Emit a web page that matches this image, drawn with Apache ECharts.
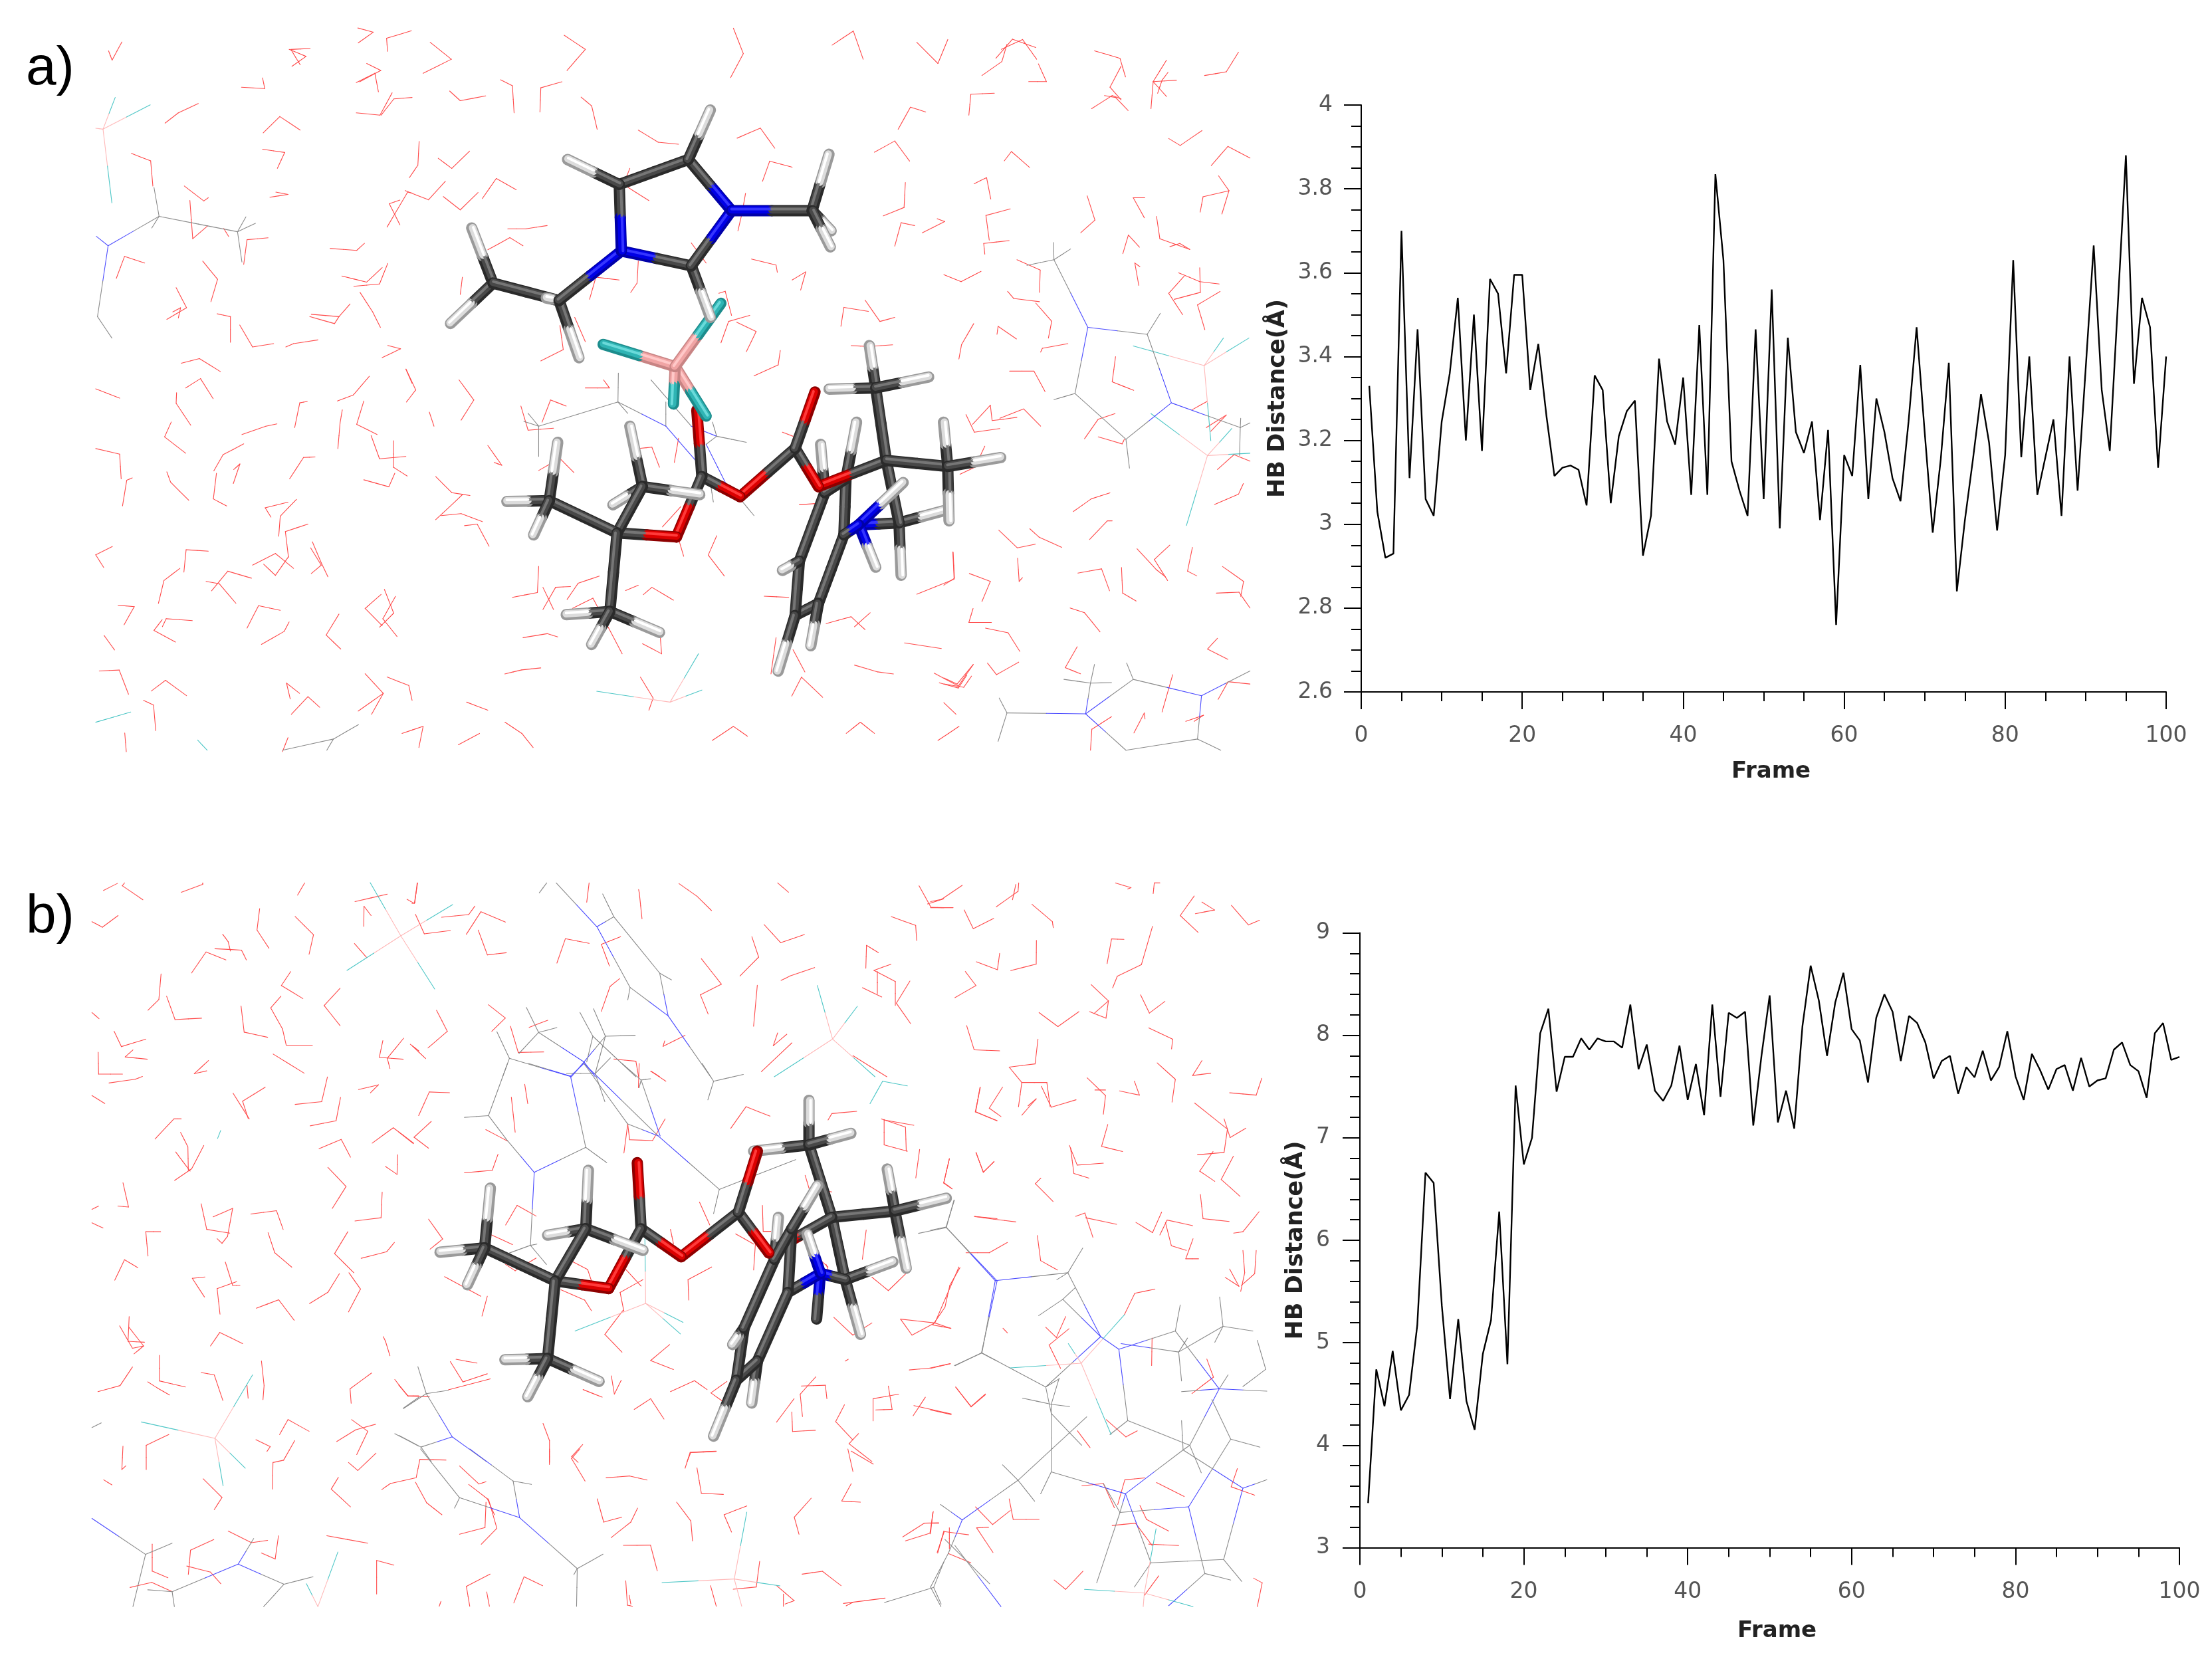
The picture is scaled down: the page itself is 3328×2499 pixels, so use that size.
<!DOCTYPE html>
<html>
<head>
<meta charset="UTF-8">
<title>HB Distance</title>
<script src="https://cdn.jsdelivr.net/npm/echarts@6/dist/echarts.min.js"></script>
<style>html,body{margin:0;background:#fff}#main{width:3328px;height:2499px}</style>
</head>
<body>
<div id="main"></div>
<script>
// hydrogen bond distance per frame
var distanceA = [3.33,3.03,2.92,2.93,3.70,3.11,3.465,3.06,3.02,3.245,
  3.36,3.54,3.20,3.50,3.175,3.585,3.55,3.36,3.595,3.595,
  3.32,3.43,3.26,3.115,3.135,3.14,3.13,3.045,3.355,3.32,
  3.05,3.21,3.27,3.295,2.925,3.02,3.395,3.245,3.19,3.35,
  3.07,3.475,3.07,3.835,3.63,3.15,3.08,3.02,3.465,3.06,
  3.56,2.99,3.445,3.22,3.17,3.245,3.01,3.225,2.76,3.165,
  3.115,3.38,3.06,3.30,3.22,3.11,3.055,3.245,3.47,3.22,
  2.98,3.155,3.385,2.84,3.01,3.155,3.31,3.195,2.985,3.165,
  3.63,3.16,3.40,3.07,3.16,3.25,3.02,3.40,3.08,3.37,
  3.665,3.32,3.175,3.525,3.88,3.335,3.54,3.47,3.135,3.40];
var distanceB = [3.435,4.74,4.38,4.92,4.34,4.49,5.17,6.66,6.56,5.36,
  4.45,5.23,4.43,4.15,4.89,5.22,6.28,4.79,7.51,6.74,
  7.0,8.02,8.26,7.45,7.79,7.79,7.97,7.86,7.97,7.94,
  7.94,7.88,8.30,7.67,7.91,7.46,7.36,7.51,7.90,7.37,
  7.72,7.22,8.30,7.40,8.22,8.17,8.23,7.12,7.8,8.39,
  7.15,7.46,7.09,8.09,8.68,8.34,7.80,8.32,8.61,8.06,
  7.95,7.54,8.17,8.40,8.23,7.75,8.19,8.12,7.93,7.58,
  7.75,7.80,7.43,7.69,7.59,7.85,7.56,7.69,8.04,7.60,
  7.37,7.82,7.66,7.47,7.67,7.71,7.46,7.78,7.50,7.56,
  7.58,7.86,7.93,7.71,7.65,7.39,8.02,8.12,7.76,7.79];

// solvent: water V shapes, x1,y1,xc,yc,x2,y2
var waterA1 = [[70,52,86,72,130,33],[980,47,893,49,935,82],[1195,3,1265,12,1197,35],[1437,9,1325,25,1329,53],[670,130,775,133,765,110],[1188,120,1272,100,1288,140],[1188,185,1295,190,1350,142],[1300,190,1358,155,1440,152],[325,207,385,185,475,165],[768,228,843,193,935,222],[765,263,865,270,832,304],[173,272,260,288,270,342],[412,342,500,374,520,367],[798,366,880,360,825,355],[1385,372,1337,380,1385,425],[1327,430,1420,355,1440,357],[437,373,450,455,518,427],[590,433,612,450],[790,453,695,457,680,510],[1070,476,1190,480,1225,465],[105,540,142,493,233,507],[495,503,562,542,532,590],[1123,535,1235,548,1305,517],[1177,557,1293,552,1330,508],[375,560,422,603,333,628],[385,625,395,603,360,612],[1205,570,1262,612,1297,645],[985,617,1110,622,1160,595],[978,622,1090,637,1110,622],[560,616,620,622,620,677],[662,640,720,687,815,680],[870,687,905,680,1015,672],[1305,710,1388,691,1330,684],[398,722,480,712,575,740],[418,775,485,755,542,798],[1103,803,1175,790,1247,750],[1412,735,1440,765],[12,777,120,797],[377,785,375,808,441,855],[910,860,933,807,967,804],[1105,905,1115,850,1125,822],[1222,803,1190,853,1282,875],[672,875,780,857,830,852],[1255,877,1293,927,1412,922],[353,848,323,880,418,915],[680,895,587,918,545,953],[12,905,120,917,127,970],[1356,888,1356,945,1418,964],[557,958,543,1013,603,1028],[633,980,663,938,635,950],[887,970,950,924,1002,923],[177,968,152,973,133,1028],[333,955,350,977,432,1016],[1222,972,1335,987,1362,958],[880,1020,777,1032,803,1052],[918,1014,845,1050,838,1093],[970,1067,868,1083,882,1138],[87,1115,12,1133,48,1160],[520,1125,420,1122,410,1170],[720,1155,823,1130,905,1162],[770,1153,823,1177,882,1137],[990,1105,1030,1150,1060,1180],[982,1118,1030,1155,985,1173],[392,1162,320,1188,295,1237],[510,1190,570,1195,645,1237],[535,1210,608,1168,715,1183],[1315,1207,1357,1258,1293,1288],[1300,1218,1228,1248,1305,1285],[1365,1222,1308,1270,1372,1308],[113,1241,186,1244,140,1283],[695,1290,747,1242,845,1252],[448,1274,330,1270,313,1287],[312,1272,275,1295,372,1320],[1110,1260,1052,1305,1118,1335],[760,1325,863,1297,885,1277],[50,1306,97,1337],[28,1382,118,1380,160,1432],[263,1425,327,1402,422,1435],[1228,1388,1310,1430,1197,1468],[1310,1430,1257,1475],[932,1430,873,1408,890,1442],[895,1475,970,1437,1023,1460],[228,1445,273,1455,283,1510],[1327,1395,1425,1413,1440,1445],[143,1515,150,1555],[880,1525,855,1555]];
var waterA2 = [[172,105,262,75,285,38],[235,68,310,27,415,45],[427,80,463,118,383,118],[680,52,795,68,820,108],[800,85,750,130,800,157],[725,148,775,152,832,180],[667,176,760,148,800,155],[1005,72,945,118,935,176],[945,118,1005,150],[945,118,1050,115],[1012,98,985,115,965,143],[1330,55,1275,97,1177,105],[228,143,122,145,113,190],[1015,240,1067,255,1165,223],[1207,298,1282,257,1382,282],[273,288,305,268,387,302],[137,337,193,324,212,370],[1240,320,1287,352,1255,402],[1287,352,1170,365,1157,398],[647,363,682,415,618,442],[907,367,855,367,905,410],[300,391,190,405,205,458],[295,459,180,465,185,488],[960,407,975,455,1110,478],[1110,478,1065,465,1020,472],[883,473,833,447,808,487],[880,555,862,507,885,515],[0,532,78,547,168,525],[330,500,435,522,432,570],[1060,528,1155,547,1243,552],[1155,517,1158,570,1040,585],[1085,535,1015,572,1078,618],[288,568,315,583,432,590],[1247,568,1145,597,1178,650],[415,593,487,632,472,668],[240,660,245,643,328,670],[135,637,80,682,68,713],[560,680,445,690,437,698],[297,739,407,739,457,783],[775,708,760,762,857,780],[130,853,210,812,218,845],[218,845,270,842,330,838],[100,832,138,870,253,862],[253,840,360,820,437,857],[635,884,697,842,773,830],[697,880,805,895,815,885],[1120,822,1188,804],[1185,860,1275,833,1205,868],[73,960,140,945,185,900],[585,1040,665,1013,750,1000],[658,1100,738,1060,760,1060],[248,1080,332,1118,413,1110],[388,1077,430,1095,532,1117],[1235,950,1310,918,1382,932],[1222,1025,1330,1003,1352,980],[1020,1112,950,1143,1010,1188],[872,1120,960,1165,1000,1180],[1122,1117,1100,1168,1142,1178],[42,1127,48,1183,0,1198],[333,1140,340,1190,355,1182],[605,1172,712,1163,748,1210],[802,1160,807,1215,868,1232],[115,1173,210,1190,172,1233],[1258,1158,1353,1190,1340,1222],[1230,1215,1332,1213,1382,1247],[132,1248,113,1278,215,1278],[570,1247,635,1257,705,1298],[188,1290,290,1300,343,1340],[602,1330,548,1375,617,1388],[1235,1312,1190,1335,1282,1357],[0,1397,60,1410,133,1368],[0,1410,90,1417,125,1393],[197,1365,238,1390,338,1363],[1033,1390,1015,1420,985,1470],[0,1450,55,1475],[858,1515,905,1472,908,1485],[1238,1443,1283,1405,1382,1410],[1092,1490,1172,1477,1130,1490],[757,1480,668,1507,662,1552]];
var waterAMid = [[120,28,145,52,205,40],[240,0,268,15,272,82],[333,80,335,20,385,5],[430,43,455,65,468,123],[565,125,612,155,660,160],[798,145,853,120,887,170],[858,252,875,202,928,217],[1122,180,1170,152,1205,202],[1178,123,1207,68,1243,80],[48,153,45,212,25,243],[93,195,125,220,167,177],[197,295,230,245,277,273],[105,290,145,323,187,280],[110,252,70,298,15,275],[545,220,530,260,590,300],[257,370,300,370,350,362],[1195,255,1192,317,1143,338],[818,282,810,330,800,375],[1235,380,1288,352,1270,345],[1170,413,1185,355,1217,362],[210,422,262,392,293,412],[690,405,725,455],[832,445,890,460,893,478],[928,497,960,477,948,522],[150,490,145,533],[565,450,562,505,547,528],[450,545,465,490,520,497],[755,530,770,525,785,585],[1043,612,1050,565,1108,575],[1100,547,1135,600,1170,590],[760,653,778,600,828,585],[797,602,843,625,820,675],[380,610,388,670,335,698],[415,590,440,650],[900,672,895,708,838,735],[1067,660,1110,662,1165,658],[17,718,40,770,18,800],[440,765,497,765,483,745],[142,745,177,795,147,845],[72,825,83,860],[288,810,305,870,365,865],[338,850,358,795,395,810],[210,908,243,957,225,950],[905,875,930,885],[87,985,125,1025,168,1032],[330,970,380,940,413,975],[570,915,597,912,615,962],[650,950,660,890],[150,1030,120,1060,87,1092],[100,1082,147,1077,197,1097],[155,1107,185,1103,213,1158],[622,1110,665,1060],[750,1132,730,1180,768,1232],[945,1055,1010,1050],[660,1140,672,1183],[330,1208,327,1273,268,1285],[340,1260,365,1315],[405,1258,370,1260,340,1315],[397,1290,423,1250,473,1232],[535,1268,565,1255],[577,1278,597,1260,648,1292],[862,1282,920,1285],[1222,1277,1310,1240,1307,1172],[1008,1350,1067,1333,1100,1365],[1075,1358,1112,1323],[1193,1398,1280,1412],[293,1385,350,1375,375,1383],[410,1312,458,1287,527,1425],[575,1400,620,1425,617,1385],[250,1475,290,1465,335,1460],[1075,1453,1130,1470,1167,1475],[1263,1473,1320,1505,1355,1452],[1275,1497,1320,1510,1340,1478],[930,1415,958,1470],[878,1475,890,1385],[927,1530,950,1483,1000,1533],[570,1483,600,1535,590,1565],[160,1545,210,1565]];
var waterAEdge = [[205,35,217,40,207,47],[260,45,270,50,255,58],[520,20,527,38,518,55],[710,35,725,28,735,42],[305,30,320,42,300,52],[400,25,415,35,402,50],[590,32,605,22,612,42],[650,30,665,45,672,28],[285,520,300,515,297,530],[358,512,370,520,378,530],[505,525,520,515,530,522],[600,520,610,512,620,520],[665,525,680,515],[325,528,340,520]];
var waterB1 = [[77,28,140,13],[172,12,162,18,255,48],[428,32,525,15,525,12],[953,38,985,12],[25,95,72,107,143,82],[782,67,770,113,824,152],[942,84,1025,123,1005,165],[1212,52,1358,36],[1252,105,1253,62,1285,82],[1447,47,1480,56,1495,12],[615,122,640,138,650,158],[475,205,540,160,630,177],[580,153,700,156,722,177],[1210,142,1265,172],[337,207,327,262,278,285],[922,202,880,232,977,260],[1145,238,1073,275,1145,318],[25,290,57,303],[362,255,400,305,520,302],[698,276,712,332,818,343],[878,255,832,280,885,325],[885,325,902,360,1020,360],[125,330,158,363,268,347],[1338,350,1322,386,1430,390],[1432,345,1358,388,1370,410],[1462,358,1500,372],[210,370,175,385,275,390],[53,375,55,422,163,422],[102,441,220,433,253,427],[551,393,487,421,543,415],[843,379,983,420],[1228,455,1318,445,1282,462],[1088,428,1062,481,942,487],[25,468,83,485],[662,463,735,518],[807,450,705,480,730,517],[1147,472,1127,522,1010,533],[310,561,395,518,428,518],[425,547,458,578,460,628],[530,575,475,625,398,650],[403,589,468,630],[1290,570,1385,537,1477,570],[1050,582,1150,562,1192,600],[1405,595,1402,637,1350,620],[1090,622,1172,663,1110,710],[165,655,190,707,142,705],[25,712,55,705],[518,700,543,755,647,763],[572,728,660,710,637,770],[637,770,612,785,590,775],[742,722,858,715,888,755],[1335,675,1330,730,1212,737],[25,741,75,752],[335,760,268,760,278,812],[1180,760,1120,807,1207,848],[820,762,850,805,927,836],[1240,817,1355,803,1390,783],[128,864,172,820,232,837],[627,825,660,875,693,875],[535,857,478,860,533,900],[678,867,590,882,603,937],[1185,848,1237,883,1183,932],[767,924,868,906,938,950],[1007,914,1090,890,1142,850],[193,942,188,995,262,997],[150,962,208,1010,258,1005],[192,965,258,1005,215,1022],[560,1005,602,976,705,1000],[1340,985,1350,995,1370,1026],[208,1050,152,1090,52,1103],[330,1025,330,1080,447,1093],[277,1082,320,1095,375,1110],[518,1062,577,1067,616,1122],[790,1037,802,1090,797,1120],[725,1090,730,1117],[1287,1063,1190,1097,1195,1128],[1392,1077,1450,1112,1500,1112],[872,1195,910,1163,1005,1188],[765,1206,830,1221,815,1231],[1197,1163,1270,1188,1220,1238],[1130,1210,1215,1185,1305,1173],[270,1270,270,1218,372,1195],[165,1220,160,1270,178,1262],[1183,1255,1225,1272,1307,1235],[940,1208,890,1250,842,1255],[842,1255,840,1312],[1333,1313,1372,1300,1485,1288],[78,1292,115,1303],[527,1290,612,1330,577,1356],[1137,1287,1105,1312,1192,1350],[640,1402,745,1427,818,1422],[1085,1412,1270,1428],[297,1430,297,1488,368,1502],[867,1412,852,1462,790,1449],[575,1420,470,1443,460,1495],[453,1477,560,1490,607,1515],[1388,1475,1310,1465,1310,1537],[197,1523,295,1512,388,1532]];
var waterB2 = [[0,52,50,47,143,17],[0,65,102,65],[152,70,193,110,285,88],[297,63,395,30,398,12],[370,48,385,15],[458,58,550,95,554,108],[207,181,302,198,312,163],[362,200,477,186,478,135],[157,202,205,232,110,258],[873,133,817,132,797,185],[1002,105,952,187,843,212],[843,212,822,237],[835,12,905,22,890,25],[1005,35,1010,12,1035,12],[1190,40,1127,82,1208,118],[1225,53,1282,70,1195,78],[1358,60,1435,102,1485,92],[725,230,803,265,738,292],[803,265,792,302,718,288],[948,252,988,291,1058,266],[490,290,575,320,670,288],[985,323,1093,347,1088,368],[163,318,197,370,312,372],[485,347,472,400,355,407],[355,407,412,440,397,492],[412,440,525,440,540,492],[500,448,545,493,657,477],[412,510,477,475,440,490],[1023,398,1105,433,1090,482],[1225,393,1183,425,1265,420],[707,430,790,468,780,508],[742,456,790,456],[920,437,943,467,853,458],[1350,462,1470,467,1495,431],[225,450,202,503,300,522],[325,450,265,495,318,513],[1192,484,1340,540,1325,590],[1325,518,1352,558,1423,538],[800,530,772,577,867,588],[1205,595,1325,590],[1275,588,1215,630,1283,652],[1367,598,1312,648,1397,684],[627,575,662,617,780,613],[632,580,647,635,715,645],[205,590,238,632,287,610],[85,603,60,655,98,668],[498,645,473,657,553,695],[197,727,285,733,385,739],[655,727,697,720,733,772],[700,730,840,744],[927,740,1002,762,1043,718],[1035,767,1068,735,1183,747],[1060,740,1087,790,1155,800],[1185,775,1152,818,1210,818],[1218,680,1230,732,1348,738],[1368,763,1410,760,1483,717],[160,805,265,805,347,783],[482,768,497,822,573,842],[1350,840,1392,877,1330,858],[1410,800,1418,848,1400,888],[1470,800,1463,850,1403,875],[133,837,87,875,65,922],[65,922,10,960,92,967],[0,1053,90,1043],[1013,883,922,892,875,938],[520,965,568,987,610,942],[625,968,535,1003,587,1053],[327,967,347,977],[1000,988,998,1047],[1247,1033,1277,1072,1180,1107],[113,1093,183,1135,248,1108],[0,1142,93,1152],[663,1187,720,1223],[793,1163,882,1200,933,1187],[203,1350,280,1388,360,1358],[355,1333,373,1377,490,1377],[1020,1298,1145,1328],[945,1347,975,1377,1075,1402],[967,1288,877,1292,845,1345],[683,1305,780,1300,830,1352],[1385,1268,1357,1307,1463,1325],[820,1390,925,1385,1000,1433],[985,1430,1120,1433],[262,1394,208,1395,282,1448],[0,1385,37,1385],[10,1362,0,1408],[30,1448,62,1403,172,1410],[85,1395,85,1440],[80,1450,182,1470],[558,1507,610,1527,688,1488],[1458,1503,1497,1513,1475,1564],[965,1540,1030,1498]];
var waterBTop = [[15,25,8,115,0,118],[87,180,167,168,185,130],[10,167,36,255,113,240],[275,202,203,155,160,257],[195,238,222,350,278,340],[522,25,515,112],[668,55,670,70,678,187],[787,28,840,85,883,150],[1078,25,1110,67],[1495,38,1530,135,1568,137],[1520,120,1568,97],[1038,213,1087,295,1157,258],[1002,268,1022,360,967,445],[427,387,452,277,522,298],[615,268,558,302,582,400],[1413,177,1485,217,1488,285],[853,367,912,482,850,530],[850,530,873,617],[1375,340,1340,307,1338,410],[1088,465,1115,445,1187,407],[1412,392,1362,420,1425,470],[1425,470,1425,578],[1372,425,1372,525],[1328,498,1385,540],[612,457,584,492,558,605],[1018,487,1007,672],[1468,468,1428,568,1470,660],[225,575,275,635,235,695],[72,600,104,695,47,770],[345,677,400,645],[290,672,313,790,388,788],[805,713,740,763,745,738],[1078,702,1065,760,1105,708],[1120,747,1030,877],[0,760,40,818],[595,820,660,830,668,900],[1300,805,1400,900],[705,875,730,900]];
var waterBMid = [[52,205,80,112,133,115],[330,82,338,158],[295,133,305,270],[40,290,85,228],[0,270,38,315],[40,290,78,333],[630,0,628,95],[660,30,700,70],[228,260,285,305],[260,357,245,420,172,430],[590,352,600,238,605,300],[605,300,665,303,698,218],[870,255,910,170,973,207],[1125,222,1135,197,1200,188],[1272,220,1272,320,1333,345],[1265,218,1328,250,1330,345],[1272,222,1350,243],[1355,450,1365,338],[1443,375,1428,470,1450,493],[1513,350,1532,428,1560,385],[1523,95,1512,190,1568,225],[280,635,310,558,360,600],[78,612,115,690,82,730],[240,672,298,712],[712,652,720,710],[788,545,815,635],[883,670,930,710],[935,700,930,812],[953,558,955,660,975,660],[1510,602,1568,610],[1065,440,1075,490,1135,505],[280,790,305,815,360,765],[120,838,215,915],[232,915,218,993],[450,775,495,810,505,855],[425,890,487,930,505,972],[595,810,635,875],[580,900,640,850],[590,975,580,900],[588,970,540,1065,585,1135],[820,800,758,850,760,930],[1080,740,1125,800],[1120,790,1130,830],[1240,840,1283,893,1330,825],[1225,655,1215,770],[1468,800,1405,1020,1315,1005],[1315,1005,1345,1068,1405,1020],[1405,1020,1447,1042],[1140,998,1190,1068,1240,1020],[710,1105,660,1168,720,1203],[1170,1170,1178,1163],[1338,1205,1390,1198,1445,1180],[1460,1273,1500,1350,1537,1303],[135,1172,168,1252,232,1220],[150,1163,205,1178],[130,1283,240,1240],[557,1228,565,1300,583,1245],[483,1282,533,1312],[712,1290,775,1247,808,1282],[818,1295,860,1250],[818,1295,860,1340],[1093,1232,1052,1300,1058,1388],[1055,1268,1118,1265,1122,1318],[1036,1318,990,1410],[1030,1370,1032,1447,1092,1442],[1283,1268,1293,1360,1250,1362],[1310,1300,1243,1318,1243,1405],[1380,1312,1348,1385],[1350,1345,1448,1378],[1168,1342,1145,1408,1190,1480],[1205,1455,1180,1495,1240,1565],[617,1360,660,1318,695,1398],[0,1265,25,1308,80,1310],[378,1415,395,1483,395,1568],[482,1498,453,1545,470,1568],[755,1568,765,1530,832,1525]];
var waterBBot = [[100,50,23,47,12,130],[10,150,43,243,88,297],[405,0,405,70],[495,0,470,43,510,145],[140,77,197,158,218,148],[167,160,222,225,243,297],[225,225,250,358,204,430],[218,240,215,355,140,385],[572,130,642,122,693,140],[897,10,820,15,805,87],[840,85,853,200,918,205],[1285,0,1300,102],[1295,10,1360,68],[1295,157,1267,235,1322,240],[546,225,565,330,618,308],[665,267,645,330,587,400],[780,240,822,325,827,415],[987,257,920,297,942,375],[1177,222,1127,308,1141,385],[1537,282,1527,380,1455,415],[1447,397,1510,335,1553,333],[1568,370,1550,470],[623,435,703,434,723,550],[230,565,160,620,170,710],[385,617,330,577,300,695],[220,645,228,710],[1025,507,1015,623,947,633],[1150,565,1210,552,1265,617],[630,595,635,705,650,710],[640,660,645,700],[1075,617,1127,685,1100,700],[1095,655,1095,710],[880,617,897,710],[1272,697,1395,673],[1280,708,1300,692],[85,688,80,710]];

// thin wire ions, x1,y1,x2,y2 and the two atom kinds at the ends
var wireA1 = [[45,220,100,152,'bf'],[45,220,258,168,'bf'],[45,220,85,378,'bf'],[45,220,12,218,'b'],[298,407,68,470,'cn'],[298,407,275,345,'c'],[298,407,265,432,'c'],[298,407,652,440,'c'],[652,440,690,408,'c'],[652,440,733,422,'c'],[652,440,672,505,'c'],[68,470,15,450,'n'],[68,470,20,622,'nc'],[20,622,85,668,'c'],[1198,1497,1085,1528,'c'],[1085,1528,855,1552,'c'],[1085,1528,1055,1552,'c'],[170,1470,12,1492,'f'],[472,1530,515,1552,'f']];
var wireA2 = [[1175,727,855,685,'bf'],[1175,727,1262,668,'bf'],[1175,727,1377,668,'bf'],[1175,727,1205,888,'bf'],[1190,920,935,830,'bf'],[1190,920,1300,862,'bf'],[1190,920,1095,1070,'bf'],[1190,920,1382,915,'bf'],[497,500,650,645,'cn'],[497,500,495,463,'c'],[497,500,572,477,'c'],[497,500,375,512,'c'],[650,645,918,660,'nc'],[650,645,592,787,'nc'],[918,660,977,615,'c'],[918,660,1027,807,'cn'],[1027,807,822,885,'nc'],[1027,807,1338,860,'nc'],[592,787,497,800,'c'],[592,787,822,885,'c'],[822,885,838,947,'c'],[1338,860,1340,840,'c'],[1338,860,1382,850,'c'],[1338,860,1335,920,'c'],[285,1472,250,1440,'c'],[285,1472,245,1533,'c'],[285,1472,640,1474,'cn'],[640,1474,662,1408,'nc'],[662,1408,680,1368,'c'],[662,1408,542,1400,'c'],[662,1408,757,1407,'c'],[640,1474,855,1400,'nc'],[855,1400,825,1365,'c'],[855,1400,1163,1435,'cn'],[1163,1435,1382,1382,'nc'],[1163,1435,1145,1528,'nc'],[1145,1528,1250,1552,'c'],[1145,1528,822,1552,'c'],[640,1474,822,1552,'nc']];
var wireAMid = [[640,1545,707,1425,'bf'],[640,1545,467,1518,'bf'],[640,1545,715,1515,'bf'],[517,800,518,728,'c'],[517,800,540,828,'c'],[517,800,330,860,'c'],[330,860,295,848,'c'],[330,860,305,828,'c'],[330,860,330,935,'c'],[517,800,630,860,'cn'],[630,860,630,800,'c'],[630,860,725,975,'n'],[595,745,690,860,'c'],[690,860,750,885,'n'],[750,885,820,900,'c'],[750,885,740,850,'c'],[750,885,725,905,'c'],[725,905,780,1020,'n'],[735,1000,742,1048,'c'],[805,1040,838,1082,'c']];
var wireB1 = [[580,1203,248,1168,'bf'],[580,1203,750,1067,'bf'],[580,1203,717,1267,'bf'],[580,1203,617,1305,'bf'],[592,560,606,543,'f'],[25,1180,67,1170,'c'],[1432,1138,1500,1115,'c'],[1392,1193,1500,1220,'c'],[25,1375,267,1452,'nc'],[267,1452,387,1428,'c'],[267,1452,210,1564,'c'],[387,1532,277,1528,'c'],[387,1532,685,1473,'cn'],[387,1532,397,1564,'c'],[685,1473,755,1418,'nc'],[685,1473,892,1516,'nc'],[892,1516,1023,1500,'c'],[892,1516,800,1564,'c'],[1045,1564,993,1515,'bf'],[1045,1564,1135,1447,'bf']];
var wireBIon = [[603,1408,557,1328,'bf'],[603,1408,522,1460,'bf'],[603,1408,681,1361,'bf'],[603,1408,654,1488,'bf']];
var wireBTop = [[425,25,545,223,'cn'],[545,223,595,178,'nc'],[595,178,562,75,'c'],[595,178,730,432,'c'],[730,432,765,463,'c'],[730,432,755,625,'cn'],[545,223,643,497,'nc'],[643,497,636,553,'c'],[643,497,755,625,'cn'],[755,625,880,900,'nc'],[375,70,397,25,'c'],[373,700,427,678,'c'],[373,700,337,587,'c'],[373,700,315,795,'c'],[373,700,507,833,'cn'],[287,817,250,697,'c'],[287,817,267,900,'c'],[287,817,470,900,'cn'],[507,833,470,900,'n'],[507,833,570,717,'nc'],[570,717,658,713,'c'],[570,717,535,593,'c'],[570,717,540,885,'c'],[533,717,495,610,'c'],[533,717,660,900,'c'],[533,717,515,833,'c'],[540,885,455,885,'c'],[540,885,585,815,'c'],[507,833,540,900,'n'],[1240,730,1195,488,'bf'],[1240,730,1313,582,'bf'],[1240,730,1068,900,'bf'],[1240,730,1365,900,'bf']];
var wireBMid = [[647,943,745,1018,'bf'],[647,943,738,1063,'bf'],[647,943,462,1052,'bf'],[647,943,645,690,'bf'],[840,495,1040,378,'c'],[355,428,283,300,'nc'],[355,428,345,715,'nc'],[355,428,490,330,'nc'],[490,330,545,390,'c'],[490,330,450,50,'cn'],[283,300,235,205,'c'],[235,205,172,212,'c'],[235,205,285,0,'c'],[345,715,290,745,'c'],[345,715,362,710,'c'],[345,715,387,790,'c'],[840,495,680,285,'cn'],[840,495,825,590,'c'],[1435,645,1362,668,'c'],[1435,645,1455,537,'c'],[1435,645,1568,855,'cn'],[1527,1138,1458,1188,'c'],[1527,1138,1568,1170,'c'],[1568,855,1527,1138,'nc'],[72,1298,50,1192,'c'],[72,1298,12,1357,'c'],[72,1298,130,1285,'c'],[72,1298,140,1468,'cn'],[140,1468,58,1508,'nc'],[140,1468,230,1565,'nc'],[58,1508,0,1462,'c'],[58,1508,85,1565,'c'],[450,50,340,0,'nc'],[450,50,485,0,'n'],[485,0,680,285,'nc'],[515,40,540,150,'c'],[585,0,635,65,'c'],[635,65,660,60,'c'],[635,65,630,95,'c'],[635,65,685,285,'cn'],[485,0,600,238,'c'],[600,238,680,285,'cn'],[825,70,795,0,'c'],[825,70,903,43,'c'],[825,70,810,143,'c'],[1268,70,1235,158,'f'],[1268,70,1333,88,'f']];
var wireB2 = [[70,750,108,692,'c'],[70,750,0,757,'c'],[70,750,292,865,'cn'],[292,865,232,1020,'nc'],[292,865,620,848,'nc'],[620,848,687,795,'c'],[620,848,570,863,'c'],[620,848,768,985,'cn'],[597,905,488,940,'c'],[597,905,653,880,'c'],[597,905,768,985,'cn'],[768,985,850,1012,'n'],[768,985,520,1093,'nc'],[232,1020,108,1047,'c'],[232,1020,520,1093,'c'],[520,1093,545,1150,'c'],[520,1093,582,1075,'c'],[850,1012,890,1165,'nc'],[850,1012,1105,973,'nc'],[1105,973,1127,917,'c'],[1105,973,1303,1097,'cn'],[1120,1018,1160,988,'c'],[1120,1018,1133,1080,'c'],[1120,1018,1320,963,'c'],[860,1000,1120,1018,'nc'],[1320,963,1305,900,'c'],[1320,963,1283,997,'c'],[1320,963,1455,973,'c'],[890,1165,810,1195,'c'],[890,1165,1170,1218,'c'],[1303,1097,1343,1067,'c'],[1303,1097,1133,1103,'nc'],[1303,1097,1518,1102,'nc'],[1303,1097,1170,1218,'nc'],[1270,1120,1355,1205,'c'],[1355,1205,1487,1222,'c'],[1355,1205,1165,1350,'cn'],[1170,1218,1140,1228,'c'],[1170,1218,1222,1277,'c'],[1140,1228,1133,1165,'c'],[1140,1228,880,1322,'cn'],[1140,1228,1410,1310,'cn'],[880,1322,855,1362,'nc'],[880,1322,995,1470,'nc'],[880,1322,545,1275,'nc'],[855,1362,1165,1350,'cn'],[855,1362,750,1513,'c'],[855,1362,780,1300,'c'],[1165,1350,1238,1493,'nc'],[995,1470,1323,1463,'c'],[995,1470,920,1522,'c'],[1238,1493,1355,1507,'c'],[1238,1493,1075,1562,'cn'],[1323,1463,1405,1510,'c'],[1410,1310,1323,1463,'nc'],[1410,1310,1518,1292,'nc'],[1475,993,1513,1055,'c'],[1513,1055,1410,1092,'c'],[545,1275,497,1322,'c'],[545,1275,545,1130,'c'],[545,1130,415,1117,'c'],[545,1130,628,1135,'c'],[545,1130,580,1075,'c'],[545,1150,682,1218,'c'],[395,1293,705,1157,'c'],[395,1293,325,1260,'c'],[395,1293,470,1338,'c'],[395,1293,143,1378,'cn'],[143,1378,45,1345,'nc'],[143,1378,80,1450,'nc'],[80,1450,0,1522,'c'],[0,1522,47,1564,'c'],[65,1420,267,1515,'c'],[110,1433,318,1564,'cn'],[680,1042,360,1052,'bf'],[680,1042,875,938,'bf'],[680,1042,622,1000,'bf'],[680,1042,815,1195,'bf'],[965,1535,695,1527,'bf'],[965,1535,1018,1397,'bf'],[965,1535,1185,1564,'bf'],[965,1535,960,1564,'b']];
var wireBBot = [[25,0,140,220,'c'],[140,220,125,267,'c'],[140,220,317,310,'cn'],[170,0,298,145,'nc'],[298,145,352,160,'c'],[298,145,317,310,'cn'],[317,310,487,540,'nc'],[487,540,563,475,'c'],[487,540,477,567,'c'],[487,540,485,710,'c'],[1538,625,1393,693,'c'],[1538,625,1568,510,'c'],[1538,625,1560,700,'c'],[950,587,987,285,'bf'],[950,587,737,603,'bf'],[950,587,1085,618,'bf'],[950,587,972,710,'b']];

// solute sticks, x1,y1,x2,y2 and the two atom kinds, drawn back to front
var sticksA = [
  [1050,1130,1055,990,'c'],[1050,1130,990,1300,'c'],[990,1300,935,1330,'c'],[990,1300,972,1405,'ch'],[935,1330,945,1195,'c'],[945,1195,1005,1025,'c'],[945,1195,905,1218,'ch'],[935,1330,895,1468,'ch'],[1055,990,1080,850,'ch'],[1005,1025,995,905,'ch'],[1005,1025,1055,990,'c'],
  [1180,1100,1285,1070,'ch'],[1085,1105,1180,1100,'nc'],[1180,1100,1185,1230,'ch'],[1150,945,1180,1100,'c'],
  [1085,1105,1190,1000,'nh'],[1085,1105,1125,1210,'nh'],[1050,1130,1085,1105,'cn'],
  [990,1010,1150,945,'oc'],[1150,945,1125,765,'c'],[1125,765,1110,660,'ch'],[1125,765,1015,768,'ch'],[1125,765,1250,738,'ch'],[1150,945,1295,960,'c'],[1295,960,1285,850,'ch'],[1295,960,1298,1095,'ch'],[1295,960,1420,938,'ch'],
  [935,915,990,1010,'co'],[805,1035,935,915,'oc'],[935,915,982,775,'co'],[715,985,805,1035,'co'],[715,985,703,820,'co'],[715,985,655,1135,'co'],[515,1125,655,1135,'co'],
  [575,1010,545,860,'ch'],[575,1010,505,1055,'ch'],[575,1010,710,1030,'ch'],[515,1125,575,1010,'c'],[515,1125,355,1045,'c'],[355,1045,255,1047,'ch'],[355,1045,375,900,'ch'],[355,1045,318,1130,'ch'],[515,1125,498,1320,'c'],[498,1320,395,1328,'ch'],[498,1320,615,1372,'ch'],[498,1320,455,1402,'ch'],
  [652,712,725,835,'bf'],[652,712,648,805,'bf'],[652,712,482,657,'bf'],[652,712,760,555,'bf'],
  [378,548,425,690,'ch'],[222,505,172,368,'ch'],[222,505,122,605,'ch'],[222,505,378,548,'c'],[378,548,348,542,'ch'],[378,548,525,425,'cn'],
  [690,462,735,590,'ch'],[525,425,690,462,'nc'],[690,462,785,325,'cn'],[785,325,683,198,'nc'],[683,198,520,260,'c'],[520,260,525,425,'cn'],[683,198,735,75,'ch'],[520,260,398,198,'ch'],
  [975,325,1020,375,'ch'],[785,325,975,325,'nc'],[975,325,1015,185,'ch'],[975,325,1018,415,'ch']
];
var sticksB = [
  [1075,320,930,345,'ch'],[1135,605,1170,850,'c'],[1135,605,1075,320,'c'],[1075,320,1075,145,'ch'],[1075,320,1185,275,'ch'],[1170,850,1210,1065,'ch'],[1170,850,1295,780,'ch'],
  [1135,605,1300,580,'c'],[1300,580,1280,415,'ch'],[1300,580,1330,805,'ch'],[1300,580,1435,530,'ch'],
  [1105,825,1095,1005,'nc'],[1105,825,1170,850,'nc'],[970,745,1135,605,'oc'],
  [1020,900,1105,825,'cn'],[1105,825,1070,670,'nh'],[1030,650,1020,900,'c'],[1020,900,940,1170,'c'],[940,1170,925,1335,'ch'],[940,1170,885,1245,'c'],[885,1245,905,1040,'c'],[885,1245,825,1465,'ch'],[905,1040,875,1105,'ch'],[905,1040,985,770,'c'],[985,770,995,605,'ch'],[985,770,1030,650,'c'],[1030,650,1098,480,'ch'],
  [890,585,970,745,'co'],[740,760,890,585,'oc'],[890,585,940,345,'co'],[635,650,740,760,'co'],[635,650,625,390,'co'],[635,650,550,885,'co'],[410,855,550,885,'co'],
  [490,650,497,420,'ch'],[490,650,390,675,'ch'],[490,650,640,735,'ch'],[410,855,490,650,'c'],[410,855,225,725,'c'],[225,725,240,490,'ch'],[225,725,108,742,'ch'],[225,725,180,870,'ch'],[410,855,390,1160,'c'],[390,1160,278,1165,'ch'],[390,1160,525,1250,'ch'],[390,1160,338,1310,'ch']
];

var kinds = {c:0,h:1,n:2,o:3,b:4,f:5,w:6};
var wireColors = ['#8a8a8a','#ddd','#4a4aff','#ff4040','#ffb8b8','#4cc6c6','#ff4a4a'];
// base, body and highlight of each stick kind
var stickColors = [
  ['#2a2a2a','#484848','#767676'],
  ['#9a9a9a','#dcdcdc','#ffffff'],
  ['#0000a8','#0000e6','#3535ff'],
  ['#8e0000','#dc0000','#ff3a3a'],
  ['#c88484','#f0a4a4','#ffc8c8'],
  ['#1c8c8c','#2fb4b4','#6adada']
];

// read segments from a crop of the picture into picture pixels
function crop(x0, y0, sx, sy, rows, kind) {
  var out = [];
  rows.forEach(function (r) {
    var k = typeof r[4] === 'string' ? r[4] : kind;
    var n = typeof r[4] === 'string' ? 4 : r.length;
    for (var i = 0; i + 3 < n; i += 2) {
      out.push([
        x0 + r[i] / sx, y0 + r[i + 1] / sy,
        x0 + r[i + 2] / sx, y0 + r[i + 3] / sy,
        kinds[k[0]], kinds[k[k.length - 1]]
      ]);
    }
  });
  return out;
}

var thinLines = [].concat(
  crop(140, 40, 3, 1.4255, waterA1, 'w'),
  crop(1420, 40, 3, 1.4255, waterA2, 'w'),
  crop(600, 120, 1.568, 1.65, waterAMid, 'w'),
  crop(0, 0, 1 / 2.122, 1 / 2.122, waterAEdge, 'w'),
  crop(130, 1320, 3, 1.4255, waterB1, 'w'),
  crop(1400, 1320, 3, 1.4255, waterB2, 'w'),
  crop(620, 1320, 1.96, 3, waterBTop, 'w'),
  crop(600, 1600, 1.742, 2.613, waterBMid, 'w'),
  crop(620, 2180, 1.96, 3, waterBBot, 'w'),
  crop(140, 40, 3, 1.4255, wireA1),
  crop(1420, 40, 3, 1.4255, wireA2),
  crop(600, 120, 1.568, 1.65, wireAMid),
  crop(130, 1320, 3, 1.4255, wireB1),
  crop(0, 0, 1, 1, wireBIon),
  crop(620, 1320, 1.96, 3, wireBTop),
  crop(600, 1600, 1.742, 2.613, wireBMid),
  crop(1400, 1320, 3, 1.4255, wireB2),
  crop(620, 2180, 1.96, 3, wireBBot)
);
var thickLines = [].concat(
  crop(600, 120, 1.568, 1.65, sticksA),
  crop(600, 1600, 1.742, 2.613, sticksB)
);

function segment(p, q, color, width, dx, dy) {
  return {
    type: 'line',
    shape: {x1: p[0] + dx, y1: p[1] + dy, x2: q[0] + dx, y2: q[1] + dy},
    style: {stroke: color, lineWidth: width, lineCap: 'round', fill: null}
  };
}

function renderWire(params, api) {
  var p = api.coord([api.value(0), api.value(1)]);
  var q = api.coord([api.value(2), api.value(3)]);
  var m = [(p[0] + q[0]) / 2, (p[1] + q[1]) / 2];
  return {type: 'group', children: [
    segment(p, m, wireColors[api.value(4)], 1.1, 0, 0),
    segment(m, q, wireColors[api.value(5)], 1.1, 0, 0)
  ]};
}

function renderStick(params, api) {
  var p = api.coord([api.value(0), api.value(1)]);
  var q = api.coord([api.value(2), api.value(3)]);
  var m = [(p[0] + q[0]) / 2, (p[1] + q[1]) / 2];
  var a = stickColors[api.value(4)], b = stickColors[api.value(5)];
  var len = Math.hypot(q[0] - p[0], q[1] - p[1]) || 1;
  var nx = -(q[1] - p[1]) / len * 2.5, ny = (q[0] - p[0]) / len * 2.5;
  if (ny > 0) { nx = -nx; ny = -ny; }
  return {type: 'group', children: [
    segment(p, m, a[0], 17, 0, 0), segment(m, q, b[0], 17, 0, 0),
    segment(p, m, a[1], 11, nx / 2, ny / 2), segment(m, q, b[1], 11, nx / 2, ny / 2),
    segment(p, m, a[2], 4, nx, ny), segment(m, q, b[2], 4, nx, ny)
  ]};
}

function plotX(gridIndex, gap) {
  return {
    type: 'value', gridIndex: gridIndex, min: 0, max: 100, interval: 20,
    name: 'Frame', nameLocation: 'middle', nameGap: gap,
    nameTextStyle: {fontFamily: 'DejaVu Sans', fontWeight: 'bold', fontSize: 34, color: '#222', padding: [0, 0, 0, 22]},
    axisLine: {onZero: false, lineStyle: {color: '#000', width: 2}},
    axisTick: {show: true, length: 26, lineStyle: {color: '#000', width: 2}},
    minorTick: {show: true, splitNumber: 4, length: 14, lineStyle: {color: '#000', width: 2}},
    axisLabel: {margin: 50, fontFamily: 'DejaVu Sans', fontSize: 33, color: '#555'},
    splitLine: {show: false}, minorSplitLine: {show: false}
  };
}

function plotY(gridIndex, min, max, interval, minor, gap, margin) {
  return {
    type: 'value', gridIndex: gridIndex, min: min, max: max, interval: interval,
    name: 'HB Distance(Å)', nameLocation: 'middle', nameGap: gap,
    nameTextStyle: {fontFamily: 'DejaVu Sans', fontWeight: 'bold', fontSize: 35, color: '#222'},
    axisLine: {show: true, onZero: false, lineStyle: {color: '#000', width: 2}},
    axisTick: {show: true, length: 26, lineStyle: {color: '#000', width: 2}},
    minorTick: {show: true, splitNumber: minor, length: 15, lineStyle: {color: '#000', width: 2}},
    axisLabel: {margin: margin, fontFamily: 'DejaVu Sans', fontSize: 33, color: '#555'},
    splitLine: {show: false}, minorSplitLine: {show: false}
  };
}

function framed(values) {
  return values.map(function (v, i) { return [i + 1, v]; });
}

var hiddenAxis = {type: 'value', gridIndex: 2, show: false, splitLine: {show: false}};

var myChart = echarts.init(document.getElementById('main'), null, {renderer: 'canvas'});
var option = {
  animation: false,
  backgroundColor: '#fff',
  title: [
    {text: 'a)', left: 34, top: 58, textStyle: {fontFamily: 'Liberation Sans', fontWeight: 'normal', fontSize: 82, color: '#000'}},
    {text: 'b)', left: 34, top: 1334, textStyle: {fontFamily: 'Liberation Sans', fontWeight: 'normal', fontSize: 82, color: '#000'}}
  ],
  grid: [
    {left: 2048, top: 158, width: 1211, height: 883},
    {left: 2046, top: 1403.5, width: 1233, height: 925},
    {left: 0, top: 0, width: 3328, height: 2499}
  ],
  xAxis: [plotX(0, 103), plotX(1, 109), Object.assign({min: 0, max: 3328}, hiddenAxis)],
  yAxis: [
    plotY(0, 2.6, 4, 0.2, 4, 108, 43),
    plotY(1, 3, 9, 1, 5, 79, 45),
    Object.assign({min: 0, max: 2499, inverse: true}, hiddenAxis)
  ],
  series: [
    {type: 'custom', xAxisIndex: 2, yAxisIndex: 2, clip: false, silent: true, progressive: 0, renderItem: renderWire, data: thinLines},
    {type: 'custom', xAxisIndex: 2, yAxisIndex: 2, clip: false, silent: true, progressive: 0, renderItem: renderStick, data: thickLines},
    {type: 'line', xAxisIndex: 0, yAxisIndex: 0, showSymbol: false, lineStyle: {color: '#000', width: 2.4}, data: framed(distanceA)},
    {type: 'line', xAxisIndex: 1, yAxisIndex: 1, showSymbol: false, lineStyle: {color: '#000', width: 2.4}, data: framed(distanceB)}
  ]
};
myChart.setOption(option);
</script>
</body>
</html>
